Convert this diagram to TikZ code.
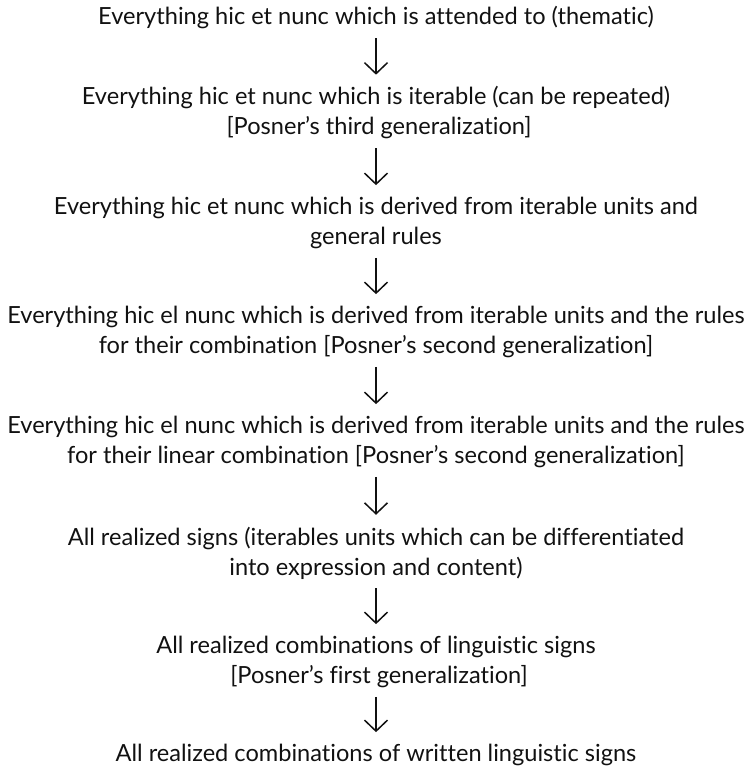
\documentclass[tikz,border=0pt]{standalone}
\usepackage{fontspec}
\setmainfont{Lato}[Ligatures=NoCommon]
\usetikzlibrary{arrows.meta}
\definecolor{semInk}{HTML}{111111}
\tikzset{
  semLevel/.style={
    align=center,
    inner sep=0pt,
    outer sep=0pt,
    text=semInk,
    font=\fontsize{23.6}{30}\selectfont
  },
  semArrow/.style={
    -{Straight Barb[length=11pt,width=23pt,line width=1.5pt]},
    line width=1.5pt,
    draw=semInk,
    shorten <=9pt,
    shorten >=12pt
  }
}
\begin{document}
\begin{tikzpicture}[x=1pt,y=1pt]
\useasboundingbox (0,0) rectangle (752,-771);

% Levels of the hierarchy, top to bottom.
\node[semLevel] (thematic) at (376,-18)
  {Everything hic et nunc which is attended to (thematic)};
\node[semLevel] (iterable) at (376,-113)
  {Everything hic et nunc which is iterable (can be repeated)\\{}
   [Posner’s third generalization]};
\node[semLevel] (general) at (376,-223)
  {Everything hic et nunc which is derived from iterable units and\\
   general rules};
\node[semLevel] (combination) at (376,-332)
  {Everything hic el nunc which is derived from iterable units and the rules\\
   for their combination [Posner’s second generalization]};
\node[semLevel] (linear) at (376,-442)
  {Everything hic el nunc which is derived from iterable units and the rules\\
   for their linear combination [Posner’s second generalization]};
\node[semLevel] (signs) at (376,-553)
  {All realized signs (iterables units which can be differentiated\\
   into expression and content)};
\node[semLevel] (linguistic) at (376,-662)
  {All realized combinations of linguistic signs\\{}
   [Posner’s first generalization]};
\node[semLevel] (written) at (376,-755)
  {All realized combinations of written linguistic signs};

% Connectors.
\foreach \a/\b in {thematic/iterable,iterable/general,general/combination,
  combination/linear,linear/signs,signs/linguistic,linguistic/written}
  \draw[semArrow] (\a) -- (\b);

\end{tikzpicture}
\end{document}
